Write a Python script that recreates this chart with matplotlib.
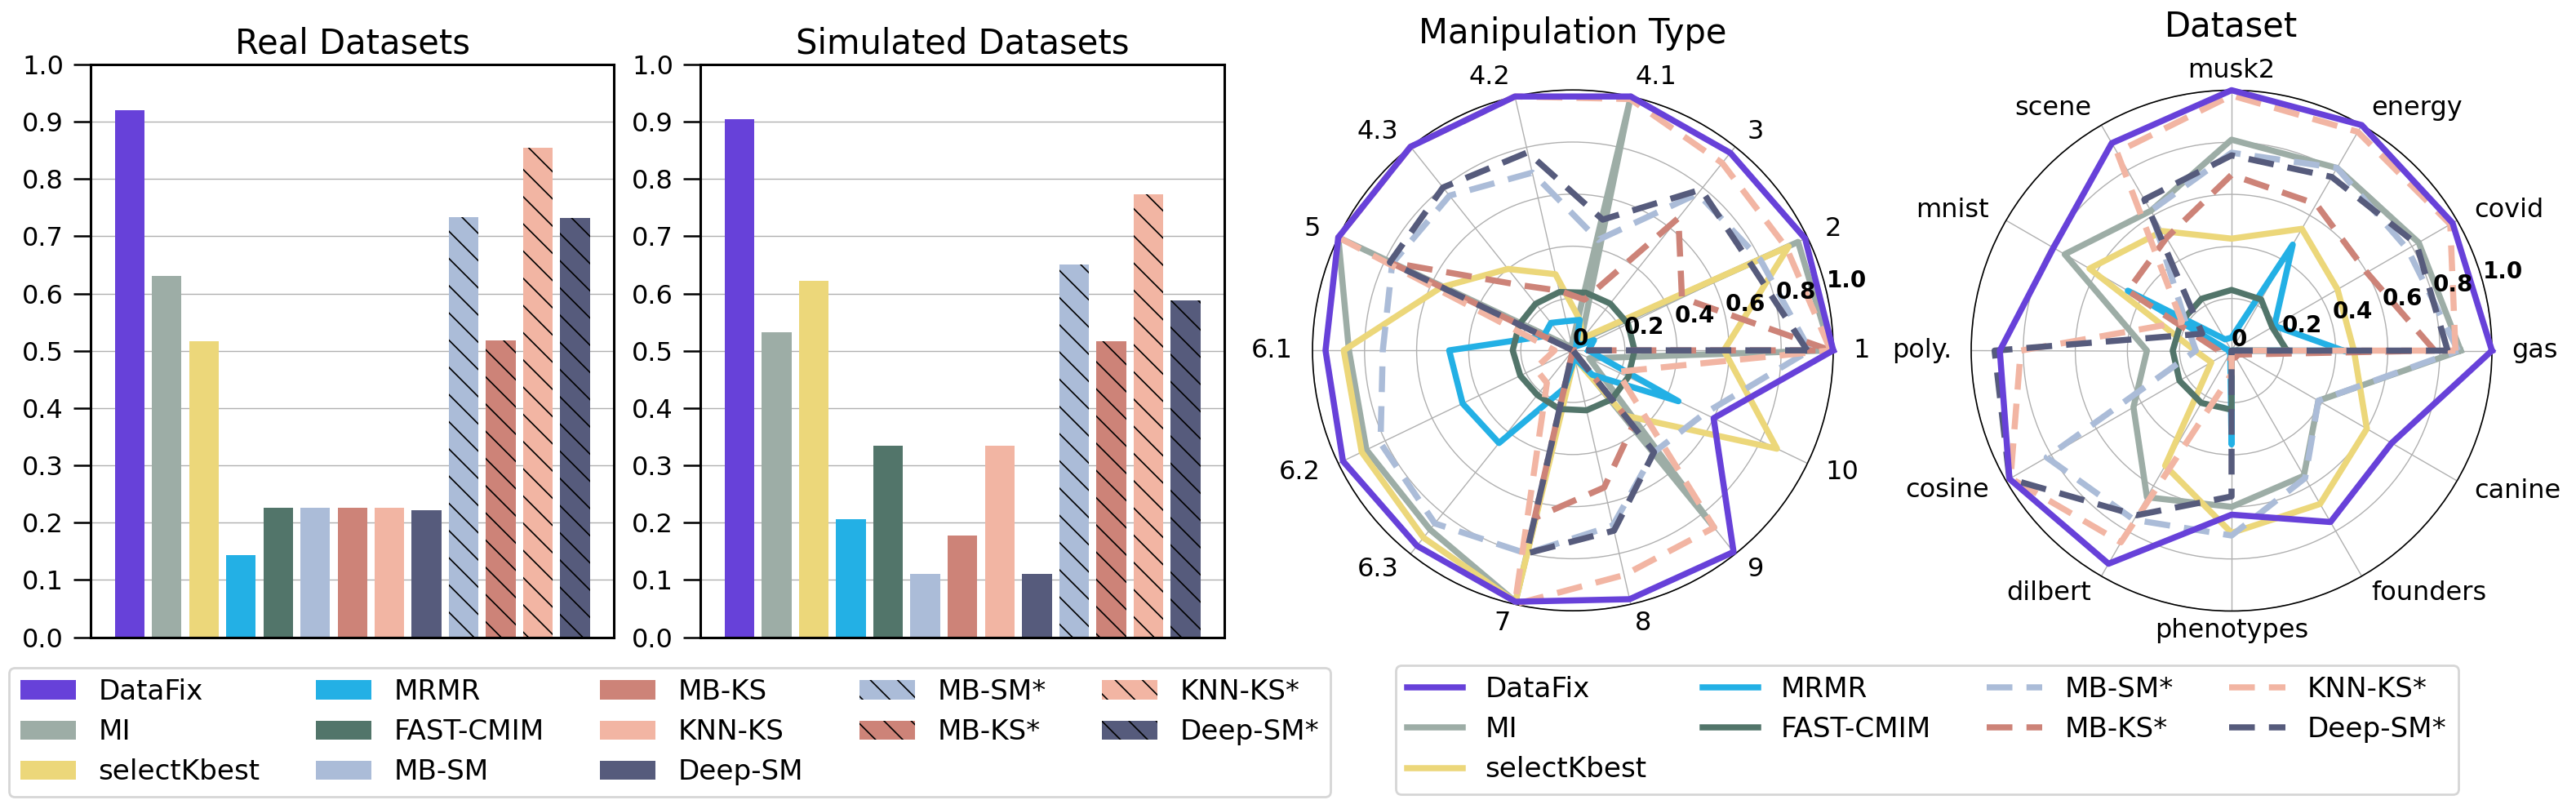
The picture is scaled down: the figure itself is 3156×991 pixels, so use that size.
import numpy as np
import matplotlib
matplotlib.use("Agg")
import matplotlib.pyplot as plt
from matplotlib.transforms import ScaledTranslation

# --- data -------------------------------------------------------------
methods = ['DataFix', 'MI', 'selectKbest', 'MRMR', 'FAST-CMIM', 'MB-SM', 'MB-KS',
           'KNN-KS', 'Deep-SM', 'MB-SM*', 'MB-KS*', 'KNN-KS*', 'Deep-SM*']
real_scores = [0.920, 0.631, 0.517, 0.143, 0.226, 0.226, 0.226, 0.226, 0.222,
               0.734, 0.518, 0.855, 0.732]
sim_scores = [0.905, 0.532, 0.622, 0.206, 0.334, 0.110, 0.177, 0.334, 0.110,
              0.651, 0.517, 0.774, 0.588]

radar_methods = ['DataFix', 'MI', 'selectKbest', 'MRMR', 'FAST-CMIM',
                 'MB-SM*', 'MB-KS*', 'KNN-KS*', 'Deep-SM*']

manip_types = ['1', '2', '3', '4.1', '4.2', '4.3', '5', '6.1', '6.2', '6.3',
               '7', '8', '9', '10']
manip_datafix = [1.00, 0.99, 0.97, 1.00, 1.00, 1.00, 1.00, 0.95, 0.98, 0.96, 0.99, 0.98, 0.99, 0.60]
manip_mi = [0.99, 0.96, 0.05, 1.00, 0.02, 0.02, 1.00, 0.86, 0.88, 0.88, 0.99, 0.02, 0.87, 0.07]
manip_kbest = [0.58, 0.92, 0.06, 0.12, 0.30, 0.40, 0.56, 0.88, 0.90, 0.92, 0.99, 0.03, 0.32, 0.87]
manip_mrmr = [0.06, 0.09, 0.02, 0.12, 0.115, 0.135, 0.125, 0.475, 0.47, 0.455, 0.15, 0.03, 0.12, 0.45]
manip_cmim = [0.237, 0.235, 0.23, 0.227, 0.23, 0.229, 0.229, 0.231, 0.224, 0.219, 0.231, 0.236, 0.24, 0.236]
manip_mbsm = [0.91, 0.80, 0.77, 0.435, 0.70, 0.76, 0.77, 0.73, 0.82, 0.85, 0.80, 0.69, 0.50, 0.56]
manip_mbks = [0.99, 0.465, 0.65, 0.20, 0.235, 0.32, 0.78, 0.0, 0.0, 0.0, 0.66, 0.54, 0.37, 0.0]
manip_knnks = [0.99, 0.91, 0.92, 0.99, 1.00, 1.00, 1.00, 0.07, 0.16, 0.16, 1.00, 0.885, 0.87, 0.19]
manip_deepsm = [0.90, 0.76, 0.79, 0.515, 0.78, 0.80, 0.78, 0.0, 0.0, 0.0, 0.80, 0.71, 0.50, 0.0]

dataset_names = ['gas', 'covid', 'energy', 'musk2', 'scene', 'mnist', 'poly.',
                 'cosine', 'dilbert', 'phenotypes', 'founders', 'canine']
data_datafix = [1.00, 0.98, 1.00, 1.00, 0.92, 0.79, 0.89, 0.985, 0.945, 0.63, 0.76, 0.71]
data_mi = [0.88, 0.83, 0.81, 0.81, 0.62, 0.74, 0.325, 0.435, 0.65, 0.60, 0.555, 0.385]
data_kbest = [0.47, 0.47, 0.54, 0.43, 0.53, 0.63, 0.14, 0.09, 0.51, 0.70, 0.68, 0.60]
data_mrmr = [0.43, 0.19, 0.47, 0.05, 0.05, 0.46, 0.01, 0.01, 0.01, 0.36, 0.0, 0.0]
data_cmim = [0.213, 0.18, 0.227, 0.233, 0.23, 0.223, 0.226, 0.231, 0.232, 0.227, 0.0, 0.0]
data_mbsm = [0.87, 0.78, 0.81, 0.76, 0.62, 0.20, 0.137, 0.82, 0.75, 0.71, 0.565, 0.385]
data_mbks = [0.78, 0.60, 0.65, 0.675, 0.50, 0.46, 0.05, 0.05, 0.03, 0.03, 0.03, 0.03]
data_knnks = [0.86, 0.97, 0.97, 0.98, 0.88, 0.22, 0.81, 0.98, 0.85, 0.09, 0.0, 0.0]
data_deepsm = [0.83, 0.82, 0.77, 0.75, 0.67, 0.13, 0.91, 0.985, 0.73, 0.56, 0.0, 0.0]

r_ticks = [0, 0.2, 0.4, 0.6, 0.8, 1.0]
r_labels = ['0', '0.2', '0.4', '0.6', '0.8', '1.0']

# --- style ------------------------------------------------------------
palette = {
    'DataFix': '#6741d9', 'MI': '#9dada6', 'selectKbest': '#ecd77a',
    'MRMR': '#23b0e5', 'FAST-CMIM': '#52756a', 'MB-SM': '#abbcd8',
    'MB-KS': '#cd8378', 'KNN-KS': '#f2b5a3', 'Deep-SM': '#565b7c',
}
for m in ['MB-SM', 'MB-KS', 'KNN-KS', 'Deep-SM']:
    palette[m + '*'] = palette[m]

plt.rcParams['hatch.linewidth'] = 0.6
W, H = 3156, 991
fig = plt.figure(figsize=(W / 200, H / 200), dpi=200)

# --- bar charts -------------------------------------------------------
x = np.arange(len(methods))
bar_boxes = [[111.4, 79, 640.6, 701.6], [858.4, 79, 641.6, 701.6]]
bar_handles = None
for box, vals, title in zip(bar_boxes, [real_scores, sim_scores],
                            ['Real Datasets', 'Simulated Datasets']):
    l, t, w, h = box
    ax = fig.add_axes([l / W, 1 - (t + h) / H, w / W, h / H])
    bars = ax.bar(x, vals, width=0.8, color=[palette[m] for m in methods],
                  edgecolor='black', linewidth=0)
    for m, b in zip(methods, bars):
        if m.endswith('*'):
            b.set_hatch('\\\\')
    if bar_handles is None:
        bar_handles = list(bars)
    ax.set_ylim(0, 1)
    ax.set_yticks(np.round(np.arange(0, 1.01, 0.1), 1))
    ax.set_yticklabels([f'{v:.1f}' for v in np.arange(0, 1.01, 0.1)])
    ax.set_xticks([])
    ax.yaxis.grid(True, color='#b0b0b0', linewidth=0.5)
    ax.set_axisbelow(True)
    for s in ax.spines.values():
        s.set_linewidth(1.1)
    ax.tick_params(axis='y', length=7.5, width=0.9, pad=4.5, labelsize=11.5)
    ax.set_title(title, fontsize=15, pad=4.7)

# --- radar charts -----------------------------------------------------
manip = dict(zip(radar_methods, [manip_datafix, manip_mi, manip_kbest, manip_mrmr,
                                 manip_cmim, manip_mbsm, manip_mbks, manip_knnks,
                                 manip_deepsm]))
dsets = dict(zip(radar_methods, [data_datafix, data_mi, data_kbest, data_mrmr,
                                 data_cmim, data_mbsm, data_mbks, data_knnks,
                                 data_deepsm]))


def draw_radar(cx, cy, cats, data, title, title_y):
    R = 319
    ax = fig.add_axes([(cx - R) / W, 1 - (cy + R) / H, 2 * R / W, 2 * R / H],
                      projection='polar')
    n = len(cats)
    ang = np.linspace(0, 2 * np.pi, n, endpoint=False)
    loop = np.append(ang, ang[0])
    lines = []
    for name in radar_methods:
        vals = np.append(data[name], data[name][0])
        ln, = ax.plot(loop, vals, color=palette[name], lw=2.7,
                      zorder=6 if name == 'DataFix' else 3, clip_on=False)
        if name.endswith('*'):
            ln.set_dashes((4.2, 2.3))
        lines.append(ln)
    ax.set_ylim(0, 1)
    ax.set_yticks(r_ticks)
    ax.set_yticklabels([])
    ax.set_xticks(ang)
    ax.set_xticklabels([])
    ax.grid(color='#b0b0b0', linewidth=0.5)
    ax.spines['polar'].set_linewidth(0.6)
    rl = np.pi / n
    for r, lab in zip(r_ticks, r_labels):
        ax.text(rl, r, lab, ha='left', va='bottom', fontsize=10,
                fontweight='bold', zorder=10)
    for a, lab in zip(ang, cats):
        c = np.cos(a)
        ha = 'left' if c > 0.01 else ('right' if c < -0.01 else 'center')
        off = ScaledTranslation(0.12 * np.cos(a), 0.12 * np.sin(a),
                                fig.dpi_scale_trans)
        ax.text(a, 1.0, lab, transform=ax.transData + off, ha=ha,
                va='center', fontsize=11.5)
    ax.set_title(title, fontsize=15, y=title_y, pad=0)
    return lines


line_handles = draw_radar(1927, 429.2, manip_types, manip, 'Manipulation Type', 1.089)
draw_radar(2734, 429.5, dataset_names, dsets, 'Dataset', 1.104)

# --- legends ----------------------------------------------------------
fig.legend(bar_handles, methods, ncol=5, loc='upper left',
           bbox_to_anchor=(11 / W, 1 - 817.7 / H), borderaxespad=0,
           fontsize=12.3, labelspacing=0.47)
fig.legend(line_handles, radar_methods, ncol=4, loc='upper left',
           bbox_to_anchor=(1710 / W, 1 - 814.7 / H), borderaxespad=0,
           fontsize=12.3, labelspacing=0.47)

fig.savefig('out.png', dpi=200)
